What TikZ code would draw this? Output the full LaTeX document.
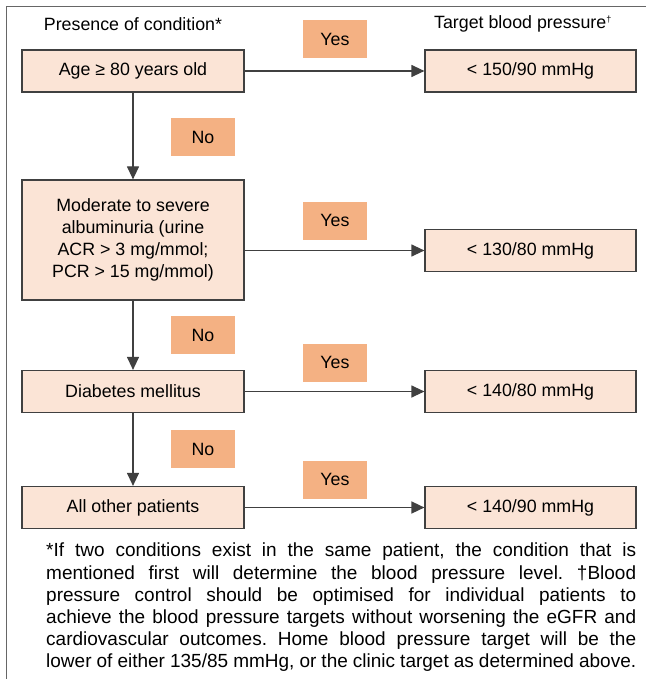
\documentclass[tikz,border=0pt]{standalone}
\usepackage{fontspec}
\setmainfont{Liberation Sans}
\usetikzlibrary{arrows.meta}
\definecolor{boxfill}{HTML}{FBE4D6}
\definecolor{tagfill}{HTML}{F4B183}
\definecolor{linegray}{HTML}{404040}
\tikzset{
	condbox/.style={draw=linegray,line width=1.2pt,fill=boxfill,minimum width=222pt,minimum height=42pt,inner sep=0pt,align=center},
	targetbox/.style={condbox,minimum width=211pt},
	tag/.style={fill=tagfill,minimum width=64pt,minimum height=38pt,inner sep=0pt},
	flow/.style={draw=linegray,line width=1.2pt,-{Triangle[length=13pt,width=12pt]}},
}
\begin{document}
\begin{tikzpicture}[x=1pt,y=-1pt,font=\fontsize{17.8}{22}\selectfont]
	\useasboundingbox (0,0) rectangle (646,679);
	\draw[linegray!80,line width=1pt] (6,679)--(6,7)--(646,7);
	% headings
	\node (hcond) at (133,24) {Presence of condition*};
	\node (htarget) at (523,24) {Target blood pressure\textsuperscript{\fontsize{9}{9}\selectfont †}};
	% conditions
	\node[condbox] (age) at (133,71) {Age ≥ 80 years old};
	\node[condbox,minimum height=120pt] (alb) at (133,240) {Moderate to severe\\albuminuria (urine\\ACR > 3 mg/mmol;\\PCR > 15 mg/mmol)};
	\node[condbox] (dm) at (133,391.5) {Diabetes mellitus};
	\node[condbox] (other) at (133,507.5) {All other patients};
	% targets
	\node[targetbox] (t1) at (530.5,71) {< 150/90 mmHg};
	\node[targetbox] (t2) at (530.5,250.5) {< 130/80 mmHg};
	\node[targetbox] (t3) at (530.5,391.5) {< 140/80 mmHg};
	\node[targetbox] (t4) at (530.5,507.5) {< 140/90 mmHg};
	% yes / no tags
	\node[tag] (yes1) at (335,39) {Yes};
	\node[tag] (yes2) at (335,220.5) {Yes};
	\node[tag] (yes3) at (335,362.5) {Yes};
	\node[tag] (yes4) at (335,479.5) {Yes};
	\node[tag] (no1) at (203,137) {No};
	\node[tag] (no2) at (203,335) {No};
	\node[tag] (no3) at (203,449) {No};
	% connectors
	\draw[flow] (age)--(alb);
	\draw[flow] (alb)--(dm);
	\draw[flow] (dm)--(other);
	\draw[flow] (age)--(t1);
	\draw[flow] (t2.west -| alb.east)--(t2.west);
	\draw[flow] (dm)--(t3);
	\draw[flow,line width=1.6pt] (other)--(t4);
	% footnote
	\node[anchor=north west,text width=590pt,align=justify,inner sep=0pt,font=\fontsize{19}{22.2}\selectfont\frenchspacing] (note) at (46,543) {*If two conditions exist in the same patient, the condition that is\linebreak mentioned first will determine the blood pressure level. †Blood\linebreak pressure control should be optimised for individual patients to\linebreak achieve the blood pressure targets without worsening the eGFR and\linebreak cardiovascular outcomes. Home blood pressure target will be the\linebreak lower of either 135/85 mmHg, or the clinic target as determined above.};
\end{tikzpicture}
\end{document}
